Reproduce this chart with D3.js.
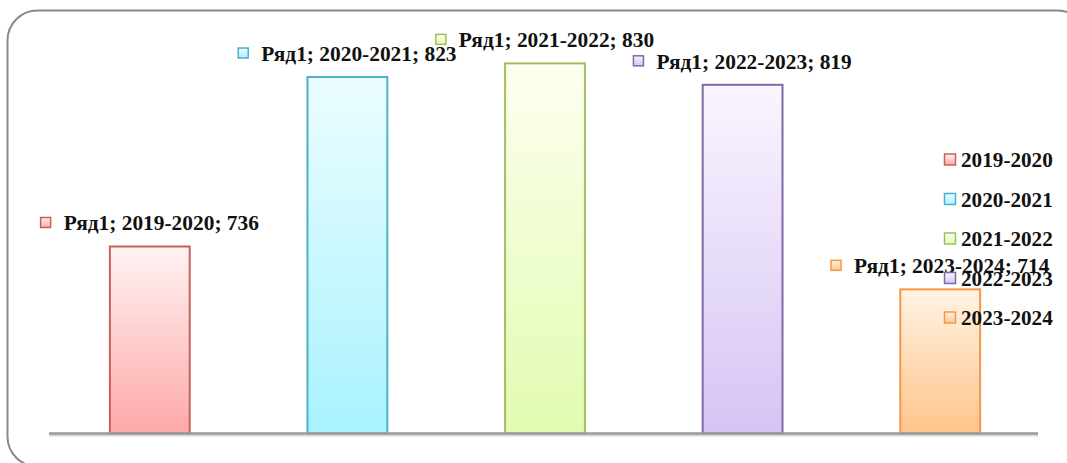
<!DOCTYPE html>
<html><head><meta charset="utf-8">
<script src="https://cdn.jsdelivr.net/npm/d3@7"></script>
<style>html,body{margin:0;padding:0;background:#fff;}svg{display:block;}</style>
</head><body>
<svg id="c" width="1067" height="463"></svg>
<script>
const categories = ["2019-2020","2020-2021","2021-2022","2022-2023","2023-2024"];
const values = [736, 823, 830, 819, 714];
const seriesName = "Ряд1";
const yDomain = [640, 840];
const strokeColors = ["#c9605c","#4fb0c9","#9fc05e","#8468a6","#f79646"];
const topColors = ["#fff2f2","#ecfdff","#fdffef","#faf5ff","#fff3e4"];
const bottomColors = ["#ffa9a9","#a8f2ff","#e2fbb0","#d5c4f3","#ffc48a"];

const svg = d3.select("#c");
const font = "'Liberation Serif','Times New Roman',serif";

// frame
svg.append("rect").attr("x",7.5).attr("y",10.5).attr("width",1080).attr("height",456)
  .attr("rx",30).attr("ry",30).attr("fill","#fff").attr("stroke","#8a8a8a").attr("stroke-width",2);

const defs = svg.append("defs");
categories.forEach((c,i)=>{
  const g = defs.append("linearGradient").attr("id","g"+i).attr("x1",0).attr("y1",0).attr("x2",0).attr("y2",1);
  g.append("stop").attr("offset","0%").attr("stop-color",topColors[i]);
  g.append("stop").attr("offset","100%").attr("stop-color",bottomColors[i]);
});

const x = d3.scaleBand().domain(categories).range([51,1039]).paddingInner(0.596).paddingOuter(0.298);
const y = d3.scaleLinear().domain(yDomain).range([433.5, 43.9]);

// bars
svg.selectAll("rect.bar").data(values).enter().append("rect")
  .attr("class","bar")
  .attr("x",(d,i)=>x(categories[i]))
  .attr("y",d=>y(d))
  .attr("width",x.bandwidth())
  .attr("height",d=>y(yDomain[0])-y(d))
  .attr("fill",(d,i)=>"url(#g"+i+")")
  .attr("stroke",(d,i)=>strokeColors[i])
  .attr("stroke-width",2);

// axis line
svg.append("line").attr("x1",49).attr("x2",1038).attr("y1",y(yDomain[0])+2).attr("y2",y(yDomain[0])+2)
  .attr("stroke","#d8d8d8").attr("stroke-width",2);
svg.append("line").attr("x1",49).attr("x2",1038).attr("y1",y(yDomain[0])).attr("y2",y(yDomain[0]))
  .attr("stroke","#9a9a9a").attr("stroke-width",2.5);

// data labels
values.forEach((v,i)=>{
  const g = svg.append("g");
  const base = y(v) - 16;
  const t = g.append("text").attr("y",base)
    .attr("font-family",font).attr("font-weight","bold").attr("font-size",21.4).attr("fill","#111")
    .text(seriesName+"; "+categories[i]+"; "+v);
  const tw = t.node().getComputedTextLength();
  const sq = 10, gap = 13;
  const total = sq + gap + tw;
  const cx = x(categories[i]) + x.bandwidth()/2;
  const left = cx - total/2;
  g.append("rect").attr("x",left).attr("y",base-13).attr("width",sq).attr("height",sq)
    .attr("fill","url(#g"+i+")").attr("stroke",strokeColors[i]).attr("stroke-width",1.5);
  t.attr("x",left+sq+gap);
});

// legend
categories.forEach((c,i)=>{
  const base = 167 + i*39.5;
  svg.append("rect").attr("x",944.5).attr("y",base-13).attr("width",11).attr("height",11)
    .attr("fill","url(#g"+i+")").attr("stroke",strokeColors[i]).attr("stroke-width",1.5);
  svg.append("text").attr("x",961).attr("y",base)
    .attr("font-family",font).attr("font-weight","bold").attr("font-size",21.2).attr("fill","#111")
    .text(c);
});
</script>
</body></html>
